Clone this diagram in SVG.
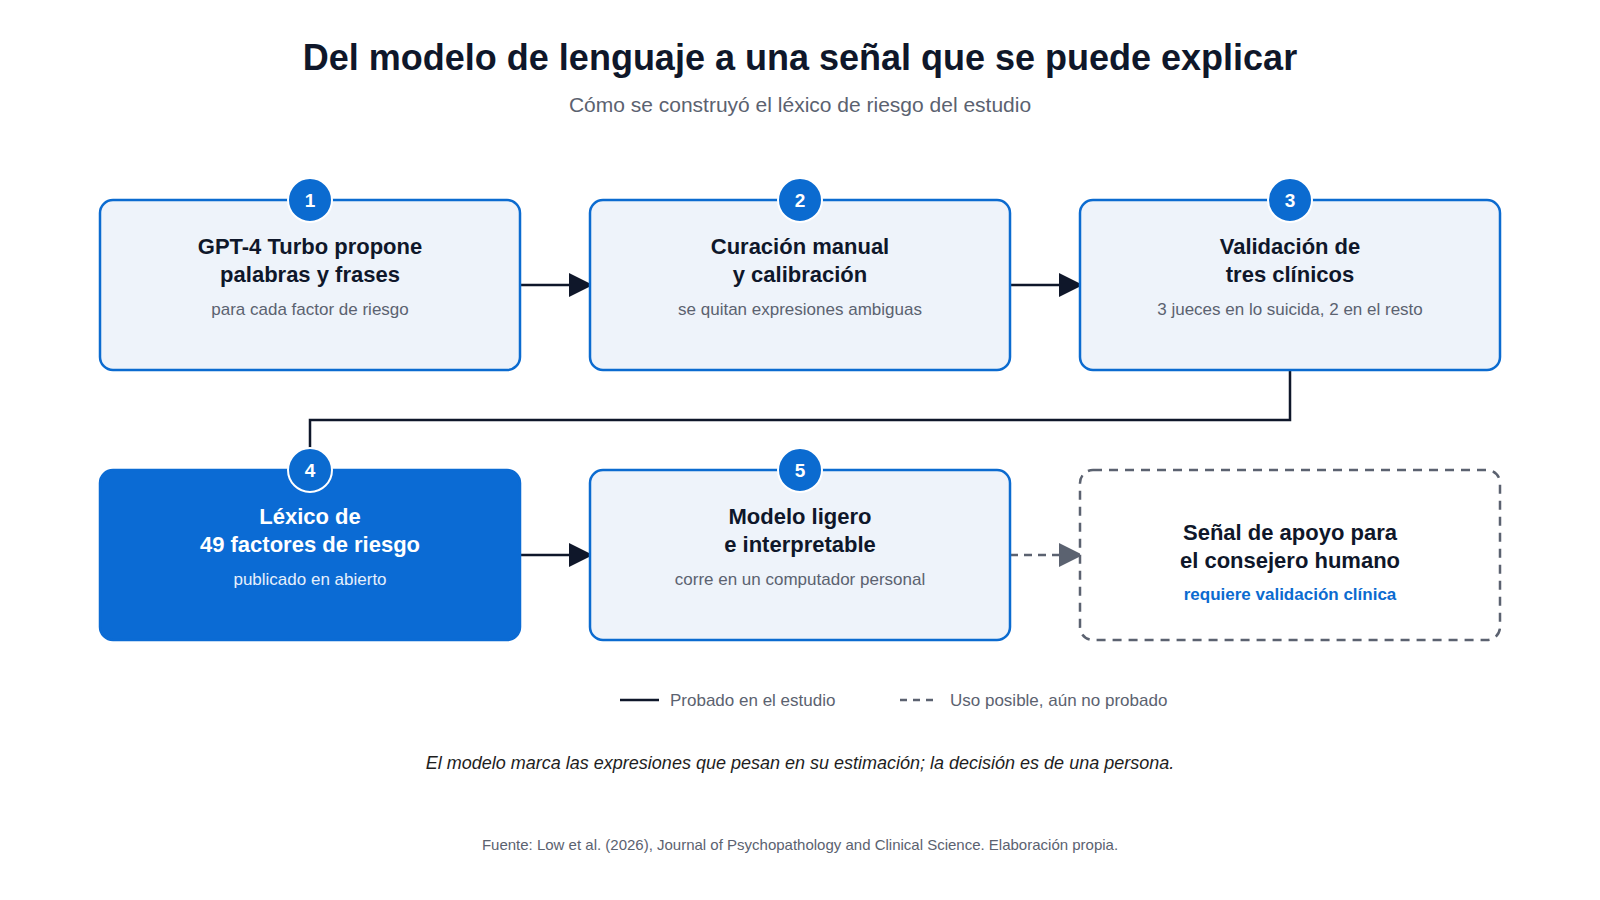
<svg xmlns="http://www.w3.org/2000/svg" width="1600" height="900" viewBox="0 0 1600 900">
<defs>
<style>
text{font-family:"Liberation Sans",Arial,sans-serif;}
.title{font-size:36px;font-weight:bold;fill:#0f172a;text-anchor:middle;}
.sub{font-size:21px;fill:#5b6270;text-anchor:middle;}
.box{fill:#eef3fa;stroke:#0b6bd0;stroke-width:2.5;}
.boxd{fill:#0b6bd4;stroke:#0b6bd4;stroke-width:2.5;}
.boxg{fill:#ffffff;stroke:#5b6270;stroke-width:2.5;stroke-dasharray:9 7;}
.bt{font-size:22px;font-weight:bold;fill:#0f172a;text-anchor:middle;}
.bs{font-size:17px;fill:#5b6270;text-anchor:middle;}
.btw{font-size:22px;font-weight:bold;fill:#ffffff;text-anchor:middle;}
.bsw{font-size:17px;fill:#e6f0fc;text-anchor:middle;}
.bsb{font-size:17px;font-weight:bold;fill:#0b6bd0;text-anchor:middle;}
.badge{fill:#0b6bd0;stroke:#ffffff;stroke-width:2;}
.bn{font-size:19px;font-weight:bold;fill:#ffffff;text-anchor:middle;}
.conn{fill:none;stroke:#0f172a;stroke-width:2.5;}
.connd{fill:none;stroke:#5b6270;stroke-width:2.5;stroke-dasharray:8 6;}
.leg{font-size:17px;fill:#5b6270;}
.note{font-size:18px;font-style:italic;fill:#1e1e1e;text-anchor:middle;}
.foot{font-size:15px;fill:#5b6270;text-anchor:middle;}
</style>
</defs>
<rect width="1600" height="900" fill="#ffffff"/>
<text class="title" x="800" y="70">Del modelo de lenguaje a una señal que se puede explicar</text>
<text class="sub" x="800" y="112">Cómo se construyó el léxico de riesgo del estudio</text>

<g id="connectors">
<line class="conn" x1="520" y1="285" x2="572" y2="285"/>
<path d="M569,273 L593,285 L569,297 z" fill="#0f172a"/>
<line class="conn" x1="1010" y1="285" x2="1062" y2="285"/>
<path d="M1059,273 L1083,285 L1059,297 z" fill="#0f172a"/>
<path class="conn" d="M1290,370 V420 H310 V448"/>
<line class="conn" x1="520" y1="555" x2="572" y2="555"/>
<path d="M569,543 L593,555 L569,567 z" fill="#0f172a"/>
<line class="connd" x1="1010" y1="555" x2="1062" y2="555"/>
<path d="M1059,543 L1083,555 L1059,567 z" fill="#5b6270"/>
</g>

<g id="n1">
<rect class="box" x="100" y="200" width="420" height="170" rx="13"/>
<circle class="badge" cx="310" cy="200" r="22"/>
<text class="bn" x="310" y="207">1</text>
<text class="bt" x="310" y="254">GPT-4 Turbo propone</text>
<text class="bt" x="310" y="282">palabras y frases</text>
<text class="bs" x="310" y="315">para cada factor de riesgo</text>
</g>
<g id="n2">
<rect class="box" x="590" y="200" width="420" height="170" rx="13"/>
<circle class="badge" cx="800" cy="200" r="22"/>
<text class="bn" x="800" y="207">2</text>
<text class="bt" x="800" y="254">Curación manual</text>
<text class="bt" x="800" y="282">y calibración</text>
<text class="bs" x="800" y="315">se quitan expresiones ambiguas</text>
</g>
<g id="n3">
<rect class="box" x="1080" y="200" width="420" height="170" rx="13"/>
<circle class="badge" cx="1290" cy="200" r="22"/>
<text class="bn" x="1290" y="207">3</text>
<text class="bt" x="1290" y="254">Validación de</text>
<text class="bt" x="1290" y="282">tres clínicos</text>
<text class="bs" x="1290" y="315">3 jueces en lo suicida, 2 en el resto</text>
</g>
<g id="n4">
<rect class="boxd" x="100" y="470" width="420" height="170" rx="13"/>
<circle class="badge" cx="310" cy="470" r="22"/>
<text class="bn" x="310" y="477">4</text>
<text class="btw" x="310" y="524">Léxico de</text>
<text class="btw" x="310" y="552">49 factores de riesgo</text>
<text class="bsw" x="310" y="585">publicado en abierto</text>
</g>
<g id="n5">
<rect class="box" x="590" y="470" width="420" height="170" rx="13"/>
<circle class="badge" cx="800" cy="470" r="22"/>
<text class="bn" x="800" y="477">5</text>
<text class="bt" x="800" y="524">Modelo ligero</text>
<text class="bt" x="800" y="552">e interpretable</text>
<text class="bs" x="800" y="585">corre en un computador personal</text>
</g>
<g id="n6">
<rect class="boxg" x="1080" y="470" width="420" height="170" rx="13"/>
<text class="bt" x="1290" y="540">Señal de apoyo para</text>
<text class="bt" x="1290" y="568">el consejero humano</text>
<text class="bsb" x="1290" y="600">requiere validación clínica</text>
</g>

<g id="legend">
<line x1="620" y1="700" x2="659" y2="700" stroke="#0f172a" stroke-width="2.5"/>
<text class="leg" x="670" y="706">Probado en el estudio</text>
<line x1="900" y1="700" x2="937" y2="700" stroke="#5b6270" stroke-width="2.5" stroke-dasharray="7 6"/>
<text class="leg" x="950" y="706">Uso posible, aún no probado</text>
</g>
<text class="note" x="800" y="769">El modelo marca las expresiones que pesan en su estimación; la decisión es de una persona.</text>
<text class="foot" x="800" y="850">Fuente: Low et al. (2026), Journal of Psychopathology and Clinical Science. Elaboración propia.</text>
</svg>
